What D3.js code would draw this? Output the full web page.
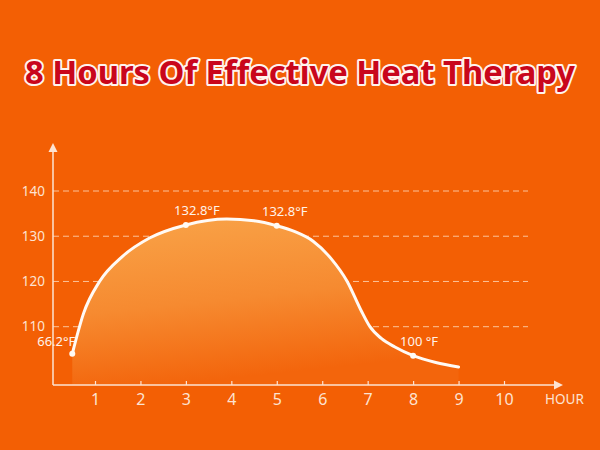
<!DOCTYPE html>
<html>
<head>
<meta charset="utf-8">
<script src="https://cdn.jsdelivr.net/npm/d3@7"></script>
<style>
  body { margin: 0; background: #f35f04; }
  svg { display: block; }
</style>
</head>
<body>
<svg id="chart" width="600" height="450"></svg>
<script>
// values
let curveHours = [0.5, 0.75, 1.1, 1.6, 2.2, 3, 3.9, 4.5, 5, 5.4, 5.8, 6.2, 6.55, 6.85, 7.05, 7.3, 7.6, 8, 8.5, 9];
let curveTemps = [104, 113, 120, 125.5, 129.6, 132.5, 133.8, 133.4, 132.3, 131, 128.9, 125, 120, 113.7, 110, 107.4, 105.5, 103.6, 102.1, 101.1];
let markHours = [0.5, 3, 5, 8];
let markTemps = [104, 132.5, 132.3, 103.6];
let markLabels = ["66.2°F", "132.8°F", "132.8°F", "100 °F"];
let xTicks = [1, 2, 3, 4, 5, 6, 7, 8, 9, 10];
let yTicks = [110, 120, 130, 140];
let titleText = "8 Hours Of Effective Heat Therapy";

let svg = d3.select("#chart");
let axisColor = "#fde3d2";

let xScale = d3.scaleLinear().domain([1, 10]).range([95, 504]),
    yScale = d3.scaleLinear().domain([110, 140]).range([326.7, 191]);
let left = 53, bottom = 385, gridRight = 528;

svg.append("rect").attr("width", 600).attr("height", 450).attr("fill", "#f35f04");

// gradient for the area
let defs = svg.append("defs");
let grad = defs.append("linearGradient")
    .attr("id", "heat")
    .attr("x1", 0).attr("y1", 0).attr("x2", 0.25).attr("y2", 1);
grad.append("stop").attr("offset", "0%").attr("stop-color", "#f9a449");
grad.append("stop").attr("offset", "55%").attr("stop-color", "#f68a30");
grad.append("stop").attr("offset", "100%").attr("stop-color", "#f3650c");

// title, sized to fit the width of the reference
let title = svg.append("text")
    .attr("x", 300)
    .attr("y", 84)
    .attr("text-anchor", "middle")
    .attr("font-family", "Noto Sans, sans-serif")
    .attr("font-weight", "bold")
    .attr("font-size", 36)
    .attr("fill", "#c9061c")
    .attr("stroke", "#fff4ee")
    .attr("stroke-width", 4)
    .attr("stroke-linejoin", "round")
    .attr("paint-order", "stroke")
    .text(titleText);
let tw = title.node().getComputedTextLength();
title.attr("font-size", 36 * 550 / tw);

// grid lines
svg.selectAll(".grid")
    .data(yTicks)
    .enter()
    .append("line")
    .attr("class", "grid")
    .attr("x1", left)
    .attr("x2", gridRight)
    .attr("y1", (d) => yScale(d))
    .attr("y2", (d) => yScale(d))
    .attr("stroke", "#fbc39a")
    .attr("stroke-width", 1)
    .attr("stroke-dasharray", "6,4");

// y labels
svg.selectAll(".ylab")
    .data(yTicks)
    .enter()
    .append("text")
    .attr("class", "ylab")
    .attr("x", 45)
    .attr("y", (d) => yScale(d))
    .attr("dy", "0.35em")
    .attr("text-anchor", "end")
    .attr("font-family", "Noto Sans, sans-serif")
    .attr("font-size", 13.5)
    .attr("fill", axisColor)
    .text((d) => d);

// area + curve
let area = d3.area()
    .curve(d3.curveMonotoneX)
    .x((d, i) => xScale(curveHours[i]))
    .y0(bottom)
    .y1((d) => yScale(d));
svg.append("path")
    .attr("d", area(curveTemps))
    .attr("fill", "url(#heat)");

let line = d3.line()
    .curve(d3.curveMonotoneX)
    .x((d, i) => xScale(curveHours[i]))
    .y((d) => yScale(d));
svg.append("path")
    .attr("d", line(curveTemps))
    .attr("fill", "none")
    .attr("stroke", "#fffaf5")
    .attr("stroke-width", 3)
    .attr("stroke-linecap", "round");

svg.selectAll(".mark")
    .data(markTemps)
    .enter()
    .append("circle")
    .attr("class", "mark")
    .attr("cx", (d, i) => xScale(markHours[i]))
    .attr("cy", (d) => yScale(d))
    .attr("r", 3)
    .attr("fill", "#fffaf5");

let labelDx = [-16, 11, 8, 6];
svg.selectAll(".mlab")
    .data(markLabels)
    .enter()
    .append("text")
    .attr("class", "mlab")
    .attr("x", (d, i) => xScale(markHours[i]) + labelDx[i])
    .attr("y", (d, i) => yScale(markTemps[i]) - (i == 0 ? 8 : 10))
    .attr("text-anchor", "middle")
    .attr("font-family", "Noto Sans, sans-serif")
    .attr("font-size", 13)
    .attr("fill", "#fff3ea")
    .text((d) => d);

// x axis
let xAxis = svg.append("g")
    .attr("transform", "translate(0," + bottom + ")")
    .call(d3.axisBottom(xScale).tickValues(xTicks).tickSizeInner(-4).tickSizeOuter(0).tickPadding(9));
xAxis.select(".domain").remove();
xAxis.selectAll(".tick line").attr("stroke", axisColor).attr("stroke-width", 1.2);
xAxis.selectAll("text")
    .attr("fill", axisColor)
    .attr("font-family", "Noto Sans, sans-serif")
    .attr("font-size", 16);

// axis lines with arrows
svg.append("line")
    .attr("x1", left).attr("x2", 556)
    .attr("y1", bottom).attr("y2", bottom)
    .attr("stroke", axisColor).attr("stroke-width", 1.5);
svg.append("path")
    .attr("d", d3.line()([[554, bottom - 4.5], [563, bottom], [554, bottom + 4.5]]))
    .attr("fill", axisColor);
svg.append("line")
    .attr("x1", left).attr("x2", left)
    .attr("y1", bottom).attr("y2", 150)
    .attr("stroke", axisColor).attr("stroke-width", 1.5);
svg.append("path")
    .attr("d", d3.line()([[left - 4.5, 152], [left, 143], [left + 4.5, 152]]))
    .attr("fill", axisColor);

svg.append("text")
    .attr("x", 545)
    .attr("y", 404)
    .attr("font-family", "Noto Sans, sans-serif")
    .attr("font-size", 13.5)
    .attr("fill", axisColor)
    .text("HOUR");
</script>
</body>
</html>
